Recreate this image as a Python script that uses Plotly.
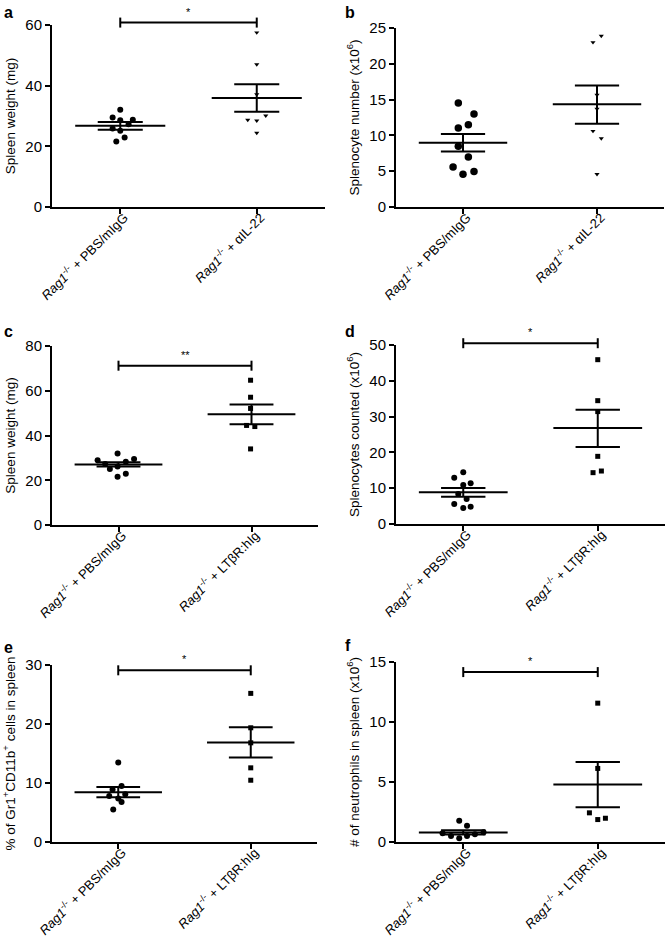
import plotly.graph_objects as go

# ---------------- data ----------------
tick_a = ["<i>Rag1</i><sup>-/-</sup> + PBS/mIgG", "<i>Rag1</i><sup>-/-</sup> + αIL-22"]
tick_c = ["<i>Rag1</i><sup>-/-</sup> + PBS/mIgG", "<i>Rag1</i><sup>-/-</sup> + LTβR:hIg"]

# panel a: spleen weight (mg)
a_ctrl = [32.1, 29.5, 28.6, 28.8, 27.3, 25.9, 25.1, 22.9, 21.6]
a_ctrl_dx = [0.0, -0.056, 0.0, 0.092, 0.061, -0.056, 0.0, 0.032, -0.029]
a_trt = [57.5, 47.0, 37.1, 28.7, 28.45, 30.1, 24.4]
a_trt_dx = [0.0, 0.0, 0.0, -0.066, 0.0, 0.066, 0.0]
a_mean = [26.75, 35.9]
a_sem_lo = [25.5, 31.4]
a_sem_hi = [28.0, 40.5]
a_sig = 60.8
a_star = "*"

# panel b: splenocyte number (x10^6)
b_ctrl = [14.53, 12.99, 11.03, 11.5, 8.5, 7.0, 5.6, 4.58, 4.95]
b_ctrl_dx = [-0.035, 0.082, -0.035, 0.04, -0.035, 0.04, -0.074, 0.0, 0.082]
b_trt = [23.0, 23.9, 15.65, 13.7, 10.6, 9.58, 4.58]
b_trt_dx = [-0.03, 0.032, 0.0, 0.0, -0.03, 0.032, 0.0]
b_mean = [8.97, 14.35]
b_sem_lo = [7.76, 11.64]
b_sem_hi = [10.19, 16.96]

# panel c: spleen weight (mg)
c_ctrl = [28.9, 32.0, 29.5, 27.3, 28.3, 25.0, 26.1, 22.9, 21.6]
c_ctrl_dx = [-0.157, -0.007, 0.117, -0.1, 0.055, -0.065, -0.007, 0.055, -0.007]
c_trt = [64.7, 57.1, 52.1, 44.5, 44.0, 34.0]
c_trt_dx = [-0.007, -0.007, -0.007, -0.037, 0.025, -0.007]
c_mean = [27.0, 49.5]
c_sem_lo = [26.1, 45.0]
c_sem_hi = [28.0, 53.9]
c_sig = 71.2
c_star = "**"

# panel d: splenocytes counted (x10^6)
d_ctrl = [14.43, 12.94, 10.89, 11.36, 8.38, 6.98, 5.59, 4.47, 4.84]
d_ctrl_dx = [0.0, -0.067, 0.0, 0.055, -0.037, 0.025, -0.067, 0.0, 0.055]
d_trt = [45.9, 34.45, 31.4, 18.9, 14.34, 14.8]
d_trt_dx = [0.0, 0.0, 0.0, 0.0, -0.035, 0.027]
d_mean = [8.85, 26.8]
d_sem_lo = [7.64, 21.5]
d_sem_hi = [10.06, 31.9]
d_sig = 50.5
d_star = "*"

# panel e: % of Gr1+CD11b+ cells in spleen
e_ctrl = [13.47, 8.89, 9.51, 7.81, 7.36, 8.09, 6.79, 5.49]
e_ctrl_dx = [0.0, -0.043, 0.025, -0.068, 0.0, 0.053, 0.025, -0.038]
e_trt = [25.19, 19.36, 16.81, 12.57, 10.47]
e_trt_dx = [0.0, 0.0, 0.0, 0.0, 0.0]
e_mean = [8.43, 16.87]
e_sem_lo = [7.58, 14.32]
e_sem_hi = [9.34, 19.47]
e_sig = 29.1
e_star = "*"

# panel f: # of neutrophils in spleen (x10^6)
f_ctrl = [1.78, 1.36, 0.73, 0.5, 0.31, 0.5, 0.64, 0.81]
f_ctrl_dx = [-0.03, 0.028, -0.154, -0.091, -0.03, 0.028, 0.087, 0.151]
f_trt = [11.57, 6.13, 2.43, 1.87, 1.98]
f_trt_dx = [0.0, 0.0, -0.062, 0.0, 0.057]
f_mean = [0.8, 4.8]
f_sem_lo = [0.63, 2.9]
f_sem_hi = [0.98, 6.66]
f_sig = 14.16
f_star = "*"

# ---------------- layout / styling ----------------
W, H = 667, 938
FONT = "Arial, Liberation Sans, sans-serif"
MEAN_HW = 0.33
SEM_HW = 0.165

panels = [
    dict(lab="a", ctrl=a_ctrl, cdx=a_ctrl_dx, trt=a_trt, tdx=a_trt_dx, mean=a_mean, lo=a_sem_lo, hi=a_sem_hi,
         sig=a_sig, star=a_star, ticks=tick_a, ymax=60, dtick=20, ytitle="Spleen weight (mg)",
         csize=6, tsym="triangle-down", tsize=4.5, px=(52, 325, 25, 207), labpos=(2, 2)),
    dict(lab="b", ctrl=b_ctrl, cdx=b_ctrl_dx, trt=b_trt, tdx=b_trt_dx, mean=b_mean, lo=b_sem_lo, hi=b_sem_hi,
         sig=None, star=None, ticks=tick_a, ymax=25, dtick=5, ytitle="Splenocyte number (x10<sup>6</sup>)",
         csize=7.5, tsym="triangle-down", tsize=4.5, px=(396, 664, 28, 207), labpos=(343, 2)),
    dict(lab="c", ctrl=c_ctrl, cdx=c_ctrl_dx, trt=c_trt, tdx=c_trt_dx, mean=c_mean, lo=c_sem_lo, hi=c_sem_hi,
         sig=c_sig, star=c_star, ticks=tick_c, ymax=80, dtick=20, ytitle="Spleen weight (mg)",
         csize=6, tsym="square", tsize=5, px=(52, 318, 346, 525), labpos=(2, 321)),
    dict(lab="d", ctrl=d_ctrl, cdx=d_ctrl_dx, trt=d_trt, tdx=d_trt_dx, mean=d_mean, lo=d_sem_lo, hi=d_sem_hi,
         sig=d_sig, star=d_star, ticks=tick_c, ymax=50, dtick=10, ytitle="Splenocytes counted (x10<sup>6</sup>)",
         csize=6, tsym="square", tsize=5, px=(396, 665, 345, 524), labpos=(343, 321)),
    dict(lab="e", ctrl=e_ctrl, cdx=e_ctrl_dx, trt=e_trt, tdx=e_trt_dx, mean=e_mean, lo=e_sem_lo, hi=e_sem_hi,
         sig=e_sig, star=e_star, ticks=tick_c, ymax=30, dtick=10,
         ytitle="% of Gr1<sup>+</sup>CD11b<sup>+</sup> cells in spleen",
         csize=6, tsym="square", tsize=5, px=(52, 317, 665, 842), labpos=(2, 637)),
    dict(lab="f", ctrl=f_ctrl, cdx=f_ctrl_dx, trt=f_trt, tdx=f_trt_dx, mean=f_mean, lo=f_sem_lo, hi=f_sem_hi,
         sig=f_sig, star=f_star, ticks=tick_c, ymax=15, dtick=5,
         ytitle="# of neutrophils in spleen (x10<sup>6</sup>)",
         csize=6, tsym="square", tsize=5, px=(396, 665, 662, 842), labpos=(343, 635)),
]

fig = go.Figure()
shapes = []
annotations = []
layout = {}

for i, p in enumerate(panels, start=1):
    xs = "x" if i == 1 else f"x{i}"
    ys = "y" if i == 1 else f"y{i}"
    x0, x1, yt, yb = p["px"]
    xdom = [x0 / W, x1 / W]
    ydom = [1 - yb / H, 1 - yt / H]

    # points
    fig.add_trace(go.Scatter(
        x=[0 + d for d in p["cdx"]], y=p["ctrl"], mode="markers", xaxis=xs, yaxis=ys,
        marker=dict(symbol="circle", size=p["csize"], color="black"), cliponaxis=False, hoverinfo="skip"))
    fig.add_trace(go.Scatter(
        x=[1 + d for d in p["tdx"]], y=p["trt"], mode="markers", xaxis=xs, yaxis=ys,
        marker=dict(symbol=p["tsym"], size=p["tsize"], color="black"), cliponaxis=False, hoverinfo="skip"))

    # mean +/- SEM
    lx, ly = [], []
    for g in range(2):
        m, lo, hi = p["mean"][g], p["lo"][g], p["hi"][g]
        lx += [g - MEAN_HW, g + MEAN_HW, None, g - SEM_HW, g + SEM_HW, None,
               g - SEM_HW, g + SEM_HW, None, g, g, None]
        ly += [m, m, None, hi, hi, None, lo, lo, None, lo, hi, None]
    fig.add_trace(go.Scatter(x=lx, y=ly, mode="lines", xaxis=xs, yaxis=ys,
                             line=dict(color="black", width=2), hoverinfo="skip"))

    # significance bar
    if p["sig"] is not None:
        yd = "y domain" if i == 1 else f"y{i} domain"
        f = p["sig"] / p["ymax"]
        cap = 5 / (yb - yt)
        shapes.append(dict(type="line", xref=xs, yref=yd, x0=0, x1=1, y0=f, y1=f,
                           line=dict(color="black", width=2)))
        for xc in (0, 1):
            shapes.append(dict(type="line", xref=xs, yref=yd, x0=xc, x1=xc, y0=f - cap, y1=f + cap,
                               line=dict(color="black", width=2)))
        py = ydom[0] + f * (ydom[1] - ydom[0])
        annotations.append(dict(text=p["star"], xref=xs, yref="paper", x=0.5, y=py + 3 / H,
                                xanchor="center", yanchor="bottom", showarrow=False,
                                font=dict(family=FONT, size=11, color="black")))

    # panel letter
    lxp, lyp = p["labpos"]
    annotations.append(dict(text=f"<b>{p['lab']}</b>", xref="paper", yref="paper",
                            x=lxp / W, y=1 - lyp / H, xanchor="left", yanchor="top",
                            showarrow=False, font=dict(family=FONT, size=16, color="black")))

    xkey = "xaxis" if i == 1 else f"xaxis{i}"
    ykey = "yaxis" if i == 1 else f"yaxis{i}"
    layout[xkey] = dict(domain=xdom, anchor=ys, range=[-0.5, 1.5], tickmode="array",
                        tickvals=[0, 1], ticktext=p["ticks"], tickangle=-45, automargin=False,
                        ticklabelstandoff=-9, ticklabelshift=4,
                        showline=True, linewidth=2, linecolor="black", ticks="outside",
                        ticklen=5, tickwidth=2, tickcolor="black", showgrid=False, zeroline=False,
                        tickfont=dict(family=FONT, size=13, color="black"), fixedrange=True)
    layout[ykey] = dict(domain=ydom, anchor=xs, range=[0, p["ymax"]], tickmode="linear", tick0=0,
                        dtick=p["dtick"], showline=True, linewidth=2, linecolor="black",
                        ticks="outside", ticklen=5, tickwidth=2, tickcolor="black",
                        showgrid=False, zeroline=False, automargin=False,
                        tickfont=dict(family=FONT, size=15, color="black"),
                        title=dict(text=p["ytitle"], font=dict(family=FONT, size=13.5, color="black"),
                                   standoff=7), fixedrange=True)

fig.update_layout(**layout)
fig.update_layout(width=W, height=H, margin=dict(l=0, r=0, t=0, b=0, autoexpand=False), showlegend=False,
                  plot_bgcolor="white", paper_bgcolor="white", shapes=shapes, annotations=annotations,
                  font=dict(family=FONT, color="black"))
fig.write_html("out.html", config={"displayModeBar": False, "staticPlot": True},
               post_script="document.body.style.margin='0px';document.body.style.padding='0px';"
                           "document.body.style.overflow='hidden';")
